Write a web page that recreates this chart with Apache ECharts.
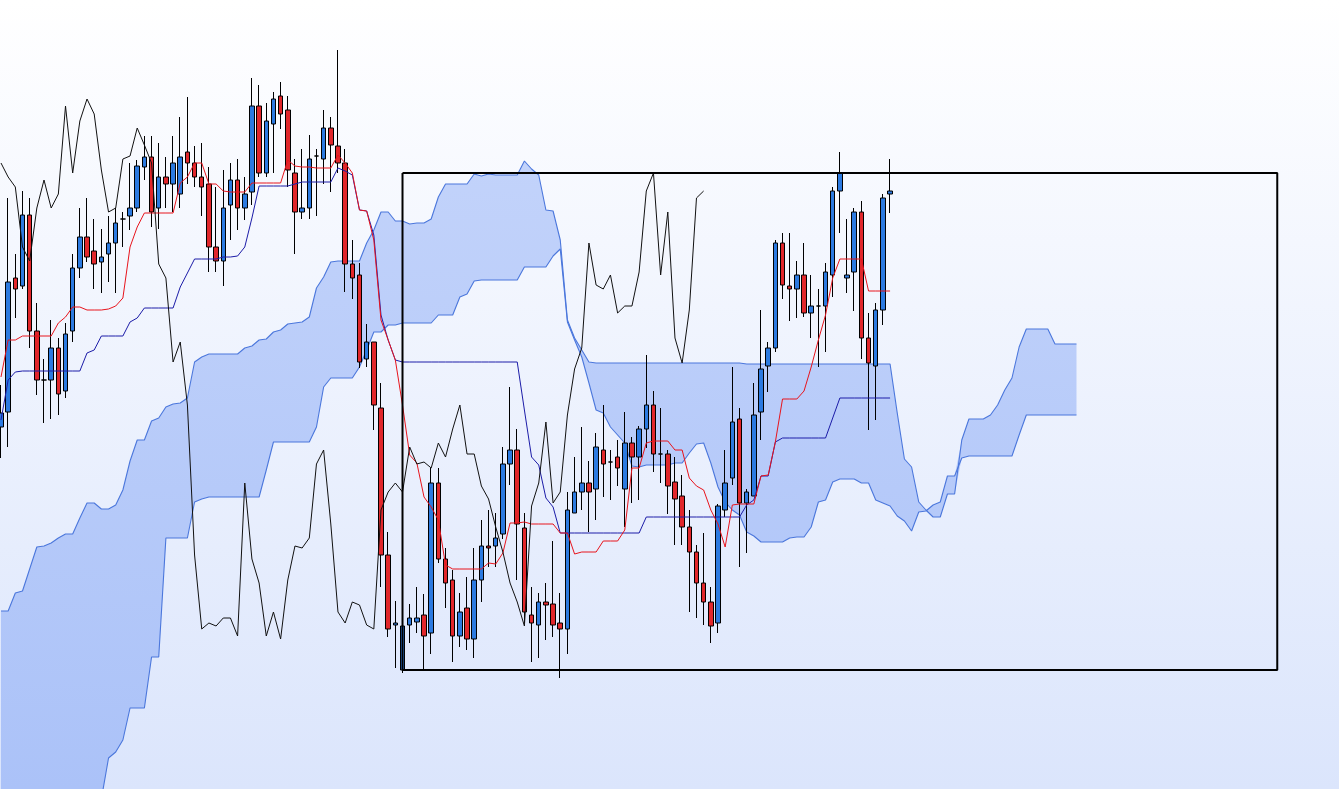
<!DOCTYPE html>
<html>
<head>
<meta charset="utf-8">
<script src="https://cdn.jsdelivr.net/npm/echarts@6/dist/echarts.min.js"></script>
<style>
html,body{margin:0;padding:0;width:100%;height:100%;overflow:hidden;background:#fff}
#c{width:1339px;height:789px}
</style>
</head>
<body>
<div id="c"></div>
<script>
// period labels (axis hidden)
const categories = Array.from({length: 187}, (_, i) => 'P' + (i + 1));

// OHLC prices (arbitrary price units)
const open = [373,388,522,514,585,469,420,420,452,409,
  469,532,563,549,538,546,557,581,584,592,
  633,643,592,623,616,606,648,637,623,616,
  553,539,595,620,592,608,694,627,676,704,
  690,627,588,592,644,641,672,654,637,536,
  525,441,458,392,245,175,130,175,178,185,
  167,317,241,220,164,192,161,220,254,254,
  266,336,350,272,185,175,198,196,177,171,
  287,308,317,311,350,338,343,311,357,343,
  371,395,346,346,318,304,273,248,217,198,
  177,290,322,381,297,304,388,434,452,557,
  514,511,525,487,494,494,525,609,522,528,
  588,462,434,490,606];
const close = [387,518,511,585,469,420,420,452,406,466,
  532,563,543,536,543,557,577,581,592,634,
  643,588,623,616,637,643,637,623,613,553,
  539,592,620,592,606,694,627,679,701,686,
  630,588,592,641,644,672,655,637,536,522,
  438,458,395,245,171,177,174,182,182,164,
  317,241,217,164,188,161,220,254,252,262,
  336,350,276,188,177,198,195,175,171,290,
  308,317,308,353,336,338,332,357,343,371,
  395,346,346,314,301,273,248,217,198,174,
  294,317,378,297,308,385,431,452,557,515,
  511,525,487,494,494,528,609,627,525,588,
  462,437,490,602,609];
const low = [342,353,482,511,452,405,377,381,385,402,
  458,522,538,511,507,518,507,553,570,588,
  620,573,571,592,588,592,616,613,584,528,
  528,514,560,570,580,595,623,623,627,671,
  613,546,581,581,584,616,608,627,508,501,
  432,433,370,213,163,132,127,157,167,130,
  146,237,192,138,153,150,142,198,233,233,
  261,315,220,177,138,142,160,163,122,146,
  287,290,268,280,303,300,314,273,297,300,
  352,328,317,286,255,255,188,182,175,157,
  167,283,315,233,247,304,360,408,448,501,
  479,482,483,462,433,448,503,567,507,489,
  441,370,380,475,587];
const high = [415,602,546,609,602,497,441,480,462,477,
  546,592,602,581,571,584,592,588,637,640,
  664,664,657,643,664,683,703,654,657,633,
  613,630,637,641,623,722,715,697,708,718,
  704,641,651,665,651,690,683,750,651,560,
  537,476,458,417,268,199,174,196,213,206,
  332,332,252,230,207,223,252,280,290,287,
  353,413,371,287,213,207,217,259,207,308,
  343,373,339,367,395,350,360,388,363,374,
  445,409,392,350,343,325,290,255,267,213,
  296,350,433,392,311,417,490,458,560,567,
  567,539,557,525,511,537,613,648,581,592,
  599,487,497,606,641];

// Ichimoku lines
const tenkan = [423,460,460,464,464,464,464,464,477,483,
  493,493,490,490,490,491,494,502,553,573,
  587,587,587,587,587,617,623,637,637,616,
  616,609,608,608,608,617,617,617,617,617,
  640,634,633,633,632,632,632,645,637,627,
  590,589,560,480,460,440,395,345,337,303,
  293,280,235,231,231,231,231,231,237,236,
  247,277,277,278,276,276,276,276,267,267,
  246,248,248,248,259,259,259,270,332,332,
  357,359,359,359,350,350,322,314,310,290,
  276,253,295,296,296,296,324,325,358,401,
  401,401,409,433,460,485,522,541,541,541,
  541,509,509,509,509];
const kijun = [380,420,428,429,429,429,429,429,429,429,
  429,429,447,450,464,464,464,464,478,482,
  492,492,492,492,492,513,527,541,541,541,
  541,543,543,544,553,582,614,614,614,614,
  614,616,618,618,618,618,618,632,629,625,
  590,589,565,485,460,440,438,438,438,438,
  438,438,438,438,438,438,438,438,438,438,
  438,438,438,390,343,335,302,293,267,267,
  267,267,267,267,267,267,267,267,267,267,
  283,283,283,283,283,283,283,283,283,283,
  283,283,283,283,295,300,324,324,358,362,
  362,362,362,362,362,362,382,402,402,402,
  402,402,402,402,402];
const senkouA = [189,189,207,209,231,253,254,257,262,266,
  266,282,297,297,291,291,295,310,339,360,
  360,379,382,393,396,397,402,438,443,446,
  446,446,446,446,452,454,460,461,468,470,
  476,477,478,483,512,523,538,539,539,539,
  539,557,570,588,588,579,579,576,577,577,
  581,603,616,616,616,616,626,624,626,625,
  625,625,625,639,631,625,590,589,560,480,
  462,450,438,437,437,437,437,437,437,437,
  437,437,437,437,437,437,437,437,437,437,
  437,437,437,437,436,436,436,436,436,436,
  436,436,436,436,436,436,436,436,436,436,
  436,436,436,436,436,387,341,333,298,290,
  283,283,306,306,360,381,381,381,385,395,
  410,422,453,471,471,471,471,456,456,456,
  456];
const senkouB = [5,5,5,5,5,5,5,5,5,5,
  5,5,5,5,1,42,48,60,92,92,
  92,143,143,262,262,262,262,298,301,303,
  303,303,303,303,303,303,303,330,358,358,
  358,358,358,358,373,413,422,422,422,422,
  433,450,468,468,475,475,477,477,477,477,
  477,485,485,485,503,506,519,520,520,520,
  520,520,520,533,533,533,533,544,551,478,
  460,443,417,390,387,373,365,357,334,333,
  335,335,335,335,337,337,347,356,357,337,
  313,298,290,285,268,264,258,258,258,258,
  262,263,263,273,298,300,318,321,321,321,
  317,317,300,297,294,284,279,269,288,289,
  295,298,324,324,342,344,344,344,344,344,
  344,344,365,385,385,385,385,385,385,385,
  385];

const SHIFT = 26;
// highlighted zone (category range and price range)
const boxFrom = 56, boxTo = 178, boxTop = 627, boxBottom = 130;

const candleData = open.map((o, i) => [o, close[i], low[i], high[i]]);
const chikou = close.slice(SHIFT);
const cloudBase = senkouA.map((a, i) => Math.min(a, senkouB[i]));
const cloudBand = senkouA.map((a, i) => Math.abs(a - senkouB[i]));
const boxLine = [[boxFrom, boxTop], [boxTo, boxTop], [boxTo, boxBottom], [boxFrom, boxBottom], [boxFrom, boxTop]];

const chart = echarts.init(document.getElementById('c'));
chart.setOption({
  animation: false,
  backgroundColor: new echarts.graphic.LinearGradient(0, 0, 0, 1, [
    {offset: 0, color: '#ffffff'}, {offset: 1, color: '#dbe5fc'}
  ]),
  grid: {left: -2.6, right: 0.8, top: 0, bottom: 0, outerBoundsMode: 'none', containLabel: false},
  xAxis: {type: 'category', data: categories, show: false, boundaryGap: true},
  yAxis: {type: 'value', min: 11, max: 800, show: false, splitLine: {show: false}},
  series: [
    {type: 'line', name: 'cloudBase', data: cloudBase, stack: 'kumo', stackStrategy: 'all',
     symbol: 'none', lineStyle: {opacity: 0}, silent: true, z: 1},
    {type: 'line', name: 'cloud', data: cloudBand, stack: 'kumo', stackStrategy: 'all',
     symbol: 'none', lineStyle: {opacity: 0}, silent: true, z: 1,
     areaStyle: {opacity: 1, color: new echarts.graphic.LinearGradient(0, 0, 0, 789, [
       {offset: 0, color: '#c8d7fb'}, {offset: 1, color: '#abc2f8'}
     ], true)}},
    {type: 'line', name: 'Senkou A', data: senkouA, symbol: 'none', z: 1,
     lineStyle: {color: '#4b77dc', width: 1.1}},
    {type: 'line', name: 'Senkou B', data: senkouB, symbol: 'none', z: 1,
     lineStyle: {color: '#4b77dc', width: 1.1}},
    {type: 'candlestick', name: 'Price', data: candleData, barWidth: 5, z: 2,
     itemStyle: {color: '#2c7ae0', color0: '#e1272b', borderColor: '#000000', borderColor0: '#000000', borderWidth: 1}},
    {type: 'line', name: 'Kijun', data: kijun, symbol: 'none', z: 3,
     lineStyle: {color: '#1c1ca8', width: 1}},
    {type: 'line', name: 'Tenkan', data: tenkan, symbol: 'none', z: 3,
     lineStyle: {color: '#e8141c', width: 1}},
    {type: 'line', name: 'Chikou', data: chikou, symbol: 'none', z: 3,
     lineStyle: {color: '#111111', width: 1}},
    {type: 'line', name: 'Zone', data: boxLine, symbol: 'none', z: 5, silent: true,
     lineStyle: {color: '#000000', width: 2}}
  ]
});
</script>
</body>
</html>
